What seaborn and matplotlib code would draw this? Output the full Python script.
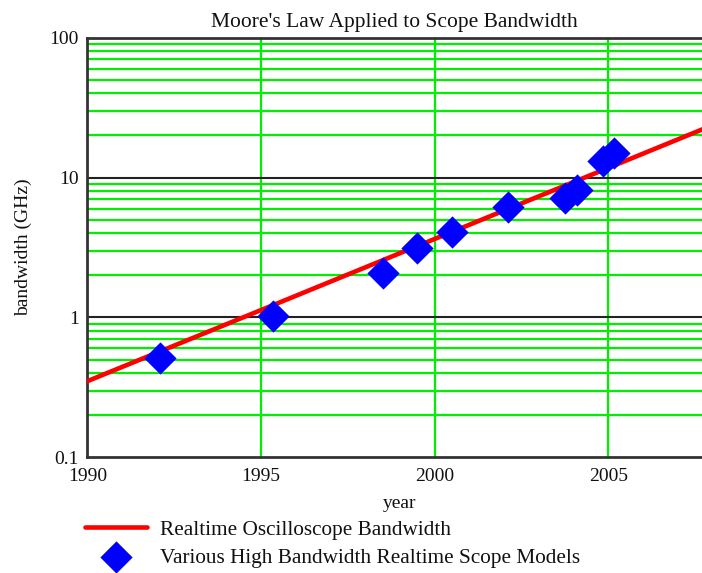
import matplotlib
matplotlib.use("Agg")
import matplotlib.pyplot as plt
import seaborn as sns
import numpy as np
import pandas as pd
from matplotlib.ticker import FixedLocator, NullFormatter

# Data
line_years = [1990, 2008]
line_bw = [0.35, 23.7]
model_years = [1992.1, 1995.35, 1998.5, 1999.5, 2000.5, 2002.1, 2003.75, 2004.1, 2004.85, 2005.15]
model_bw = [0.515, 1.02, 2.09, 3.15, 4.09, 6.15, 7.15, 8.2, 13.1, 15.0]
x_ticks = [1990, 1995, 2000, 2005]
y_ticks = [0.1, 1, 10, 100]
y_ticklabels = ["0.1", "1", "10", "100"]

FS = 14

sns.set_theme(style="white")
plt.rcParams['font.family'] = ['Liberation Serif', 'DejaVu Serif']

fig = plt.figure(figsize=(7.02, 5.73), dpi=100)
ax = fig.add_axes([87.3/702, 1 - 457.3/573, 1 - 87.3/702, (457.3 - 37.7)/573])

line_df = pd.DataFrame({"year": line_years, "bw": line_bw})
pts_df = pd.DataFrame({"year": model_years, "bw": model_bw})

sns.lineplot(data=line_df, x="year", y="bw", ax=ax, color="#ff0000", lw=3.3,
             label="Realtime Oscilloscope Bandwidth", zorder=3)
sns.scatterplot(data=pts_df, x="year", y="bw", ax=ax, marker="D", s=270, color="#0000ff",
                linewidth=0, label="Various High Bandwidth Realtime Scope Models", zorder=4)

ax.set_yscale("log")
ax.set_xlim(1990, 1990 + (702 - 87.3) / 34.74)
ax.set_ylim(0.1, 100)

# grid lines
minor = [m * 10.0**e for e in (-1, 0, 1) for m in range(2, 10)]
for v in minor:
    ax.axhline(v, color="#00ee00", lw=1.6, zorder=1)
for v in [1, 10]:
    ax.axhline(v, color="#222222", lw=1.5, zorder=2)
for v in x_ticks[1:]:
    ax.axvline(v, color="#00ee00", lw=1.6, zorder=1)

ax.yaxis.set_major_locator(FixedLocator(y_ticks))
ax.set_yticklabels(y_ticklabels)
ax.yaxis.set_minor_formatter(NullFormatter())
ax.yaxis.set_minor_locator(FixedLocator([]))
ax.set_xticks(x_ticks)
ax.tick_params(axis="y", length=0, labelsize=FS, colors="#111111", pad=6)
ax.tick_params(axis="x", length=0, labelsize=FS, colors="#111111", pad=8)

for side in ["left", "top", "bottom"]:
    ax.spines[side].set_visible(True)
    ax.spines[side].set_color("#333333")
    ax.spines[side].set_linewidth(2)
ax.spines["right"].set_visible(False)

ax.set_title("Moore's Law Applied to Scope Bandwidth", fontsize=15.5, pad=8, color="#111111")
ax.set_xlabel("year", fontsize=FS, color="#111111")
ax.set_ylabel("bandwidth (GHz)", fontsize=FS, color="#111111")
ax.xaxis.set_label_coords((400 - 87.3) / 614.7, (457.3 - 495) / 419.6)
ax.yaxis.set_label_coords((32 - 87.3) / 614.7, 0.5)

ax.get_legend().remove()
h, l = ax.get_legend_handles_labels()
leg = fig.legend(h, l, loc="upper left", bbox_to_anchor=(85/702, 1 - 520/573),
                 frameon=False, fontsize=15.3, handlelength=2.9, handletextpad=0.64,
                 labelspacing=0.38, borderpad=0, borderaxespad=0, markerscale=1.0)
for t in leg.get_texts():
    t.set_color("#111111")

fig.savefig("out.png", dpi=100)
